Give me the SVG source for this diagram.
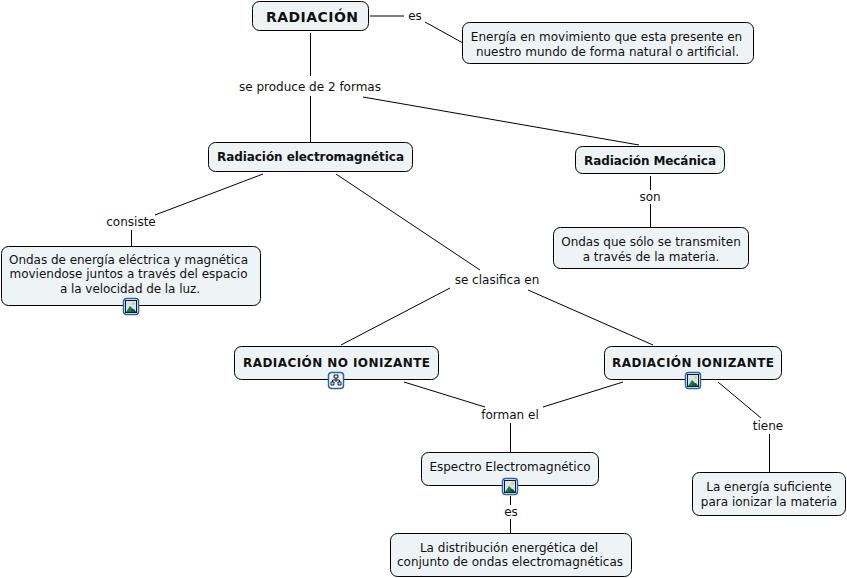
<svg xmlns="http://www.w3.org/2000/svg" width="847" height="578" viewBox="0 0 847 578">
<style>
.n{fill:#eef4f6;stroke:#000;stroke-width:1}
text{font-family:"DejaVu Sans",Verdana,sans-serif;font-size:12px;fill:#111;text-anchor:middle}
.b{font-weight:bold}
#connectors path{fill:none;stroke:#000;stroke-width:1}
.f{fill:#f4f8fc;stroke:#2a62b0;stroke-width:1.500}
</style>
<defs>
<g id="img"><rect class="f" x="0.500" y="0.500" width="15" height="16" rx="3"/><rect x="2.500" y="2.500" width="11" height="12" fill="#d5e3f2" stroke="#0b1a2a" stroke-width="1"/><path d="M3 14L7 8L13 14Z" fill="#1f7a3a"/><path d="M8 12L11 11L13 14H9Z" fill="#0f5a28"/><circle cx="10.500" cy="5.500" r="1.500" fill="#e8d24a"/></g>
<g id="map"><rect class="f" x="0.500" y="0.500" width="15" height="16" rx="3"/><path d="M6 3h4v3h-4zM3 10h3v3h-3zM10 10h3v3h-3zM8 6v4M4.500 10V8h7v2" fill="#dfe9f5" stroke="#123" stroke-width="1"/></g>
</defs>
<g id="connectors">
<path d="M370 16H404M425 22L463 43"/>
<path d="M310.500 33V76M310.500 96V142"/>
<path d="M363 97L639 145"/>
<path d="M263 174L155 215M131.500 230V246"/>
<path d="M336 174L480 270"/>
<path d="M650.500 176V190M650.500 204V227"/>
<path d="M450 288L341 345M528 290L653 345"/>
<path d="M404 382L485 407M543 407L623 382"/>
<path d="M510.500 423V452"/>
<path d="M718 382L761 418M769.500 434V472"/>
<path d="M510.500 496V505M510.500 519V533"/>
</g>
<g id="n1"><rect class="n" x="252.500" y="1.500" width="116" height="29" rx="7"/><text class="b" x="312" y="22" style="font-size:14px" textLength="92">RADIACIÓN</text></g>
<g id="n2"><rect class="n" x="462.500" y="22.500" width="291" height="41" rx="7"/><text x="606.500" y="41">Energía en movimiento que esta presente en</text><text x="607.500" y="56">nuestro mundo de forma natural o artificial.</text></g>
<g id="n3"><rect class="n" x="208.500" y="142.500" width="204" height="29" rx="7"/><text class="b" x="310.500" y="161" textLength="187">Radiación electromagnética</text></g>
<g id="n4"><rect class="n" x="575.500" y="146.500" width="149" height="27" rx="7"/><text class="b" x="650" y="165" textLength="132">Radiación Mecánica</text></g>
<g id="n5"><rect class="n" x="1.500" y="246.500" width="259" height="59" rx="7"/><text x="128.500" y="264" textLength="239">Ondas de energía eléctrica y magnética</text><text x="128.500" y="278" textLength="238">moviendose juntos a través del espacio</text><text x="130" y="293" textLength="140">a la velocidad de la luz.</text><use href="#img" x="123" y="298"/></g>
<g id="n6"><rect class="n" x="553.500" y="227.500" width="195" height="41" rx="7"/><text x="651" y="246">Ondas que sólo se transmiten</text><text x="651" y="261">a través de la materia.</text></g>
<g id="n7"><rect class="n" x="234.500" y="346.500" width="204" height="33" rx="7"/><text class="b" x="336.500" y="367" textLength="187">RADIACIÓN NO IONIZANTE</text><use href="#map" x="328" y="372"/></g>
<g id="n8"><rect class="n" x="604.500" y="346.500" width="177" height="33" rx="7"/><text class="b" x="693" y="367" textLength="162">RADIACIÓN IONIZANTE</text><use href="#img" x="685" y="372"/></g>
<g id="n9"><rect class="n" x="421.500" y="452.500" width="177" height="33" rx="7"/><text x="510" y="471">Espectro Electromagnético</text><use href="#img" x="502" y="478"/></g>
<g id="n10"><rect class="n" x="692.500" y="472.500" width="153" height="43" rx="7"/><text x="769" y="491">La energía suficiente</text><text x="769" y="506">para ionizar la materia</text></g>
<g id="n11"><rect class="n" x="390.500" y="533.500" width="241" height="43" rx="7"/><text x="509" y="552">La distribución energética del</text><text x="510" y="566">conjunto de ondas electromagnéticas</text></g>
<g id="labels">
<text x="415" y="20">es</text><text x="310" y="91">se produce de 2 formas</text><text x="131" y="226">consiste</text><text x="650" y="201">son</text><text x="497" y="284">se clasifica en</text><text x="510" y="419">forman el</text><text x="768" y="430">tiene</text><text x="511" y="516">es</text>
</g>
</svg>
